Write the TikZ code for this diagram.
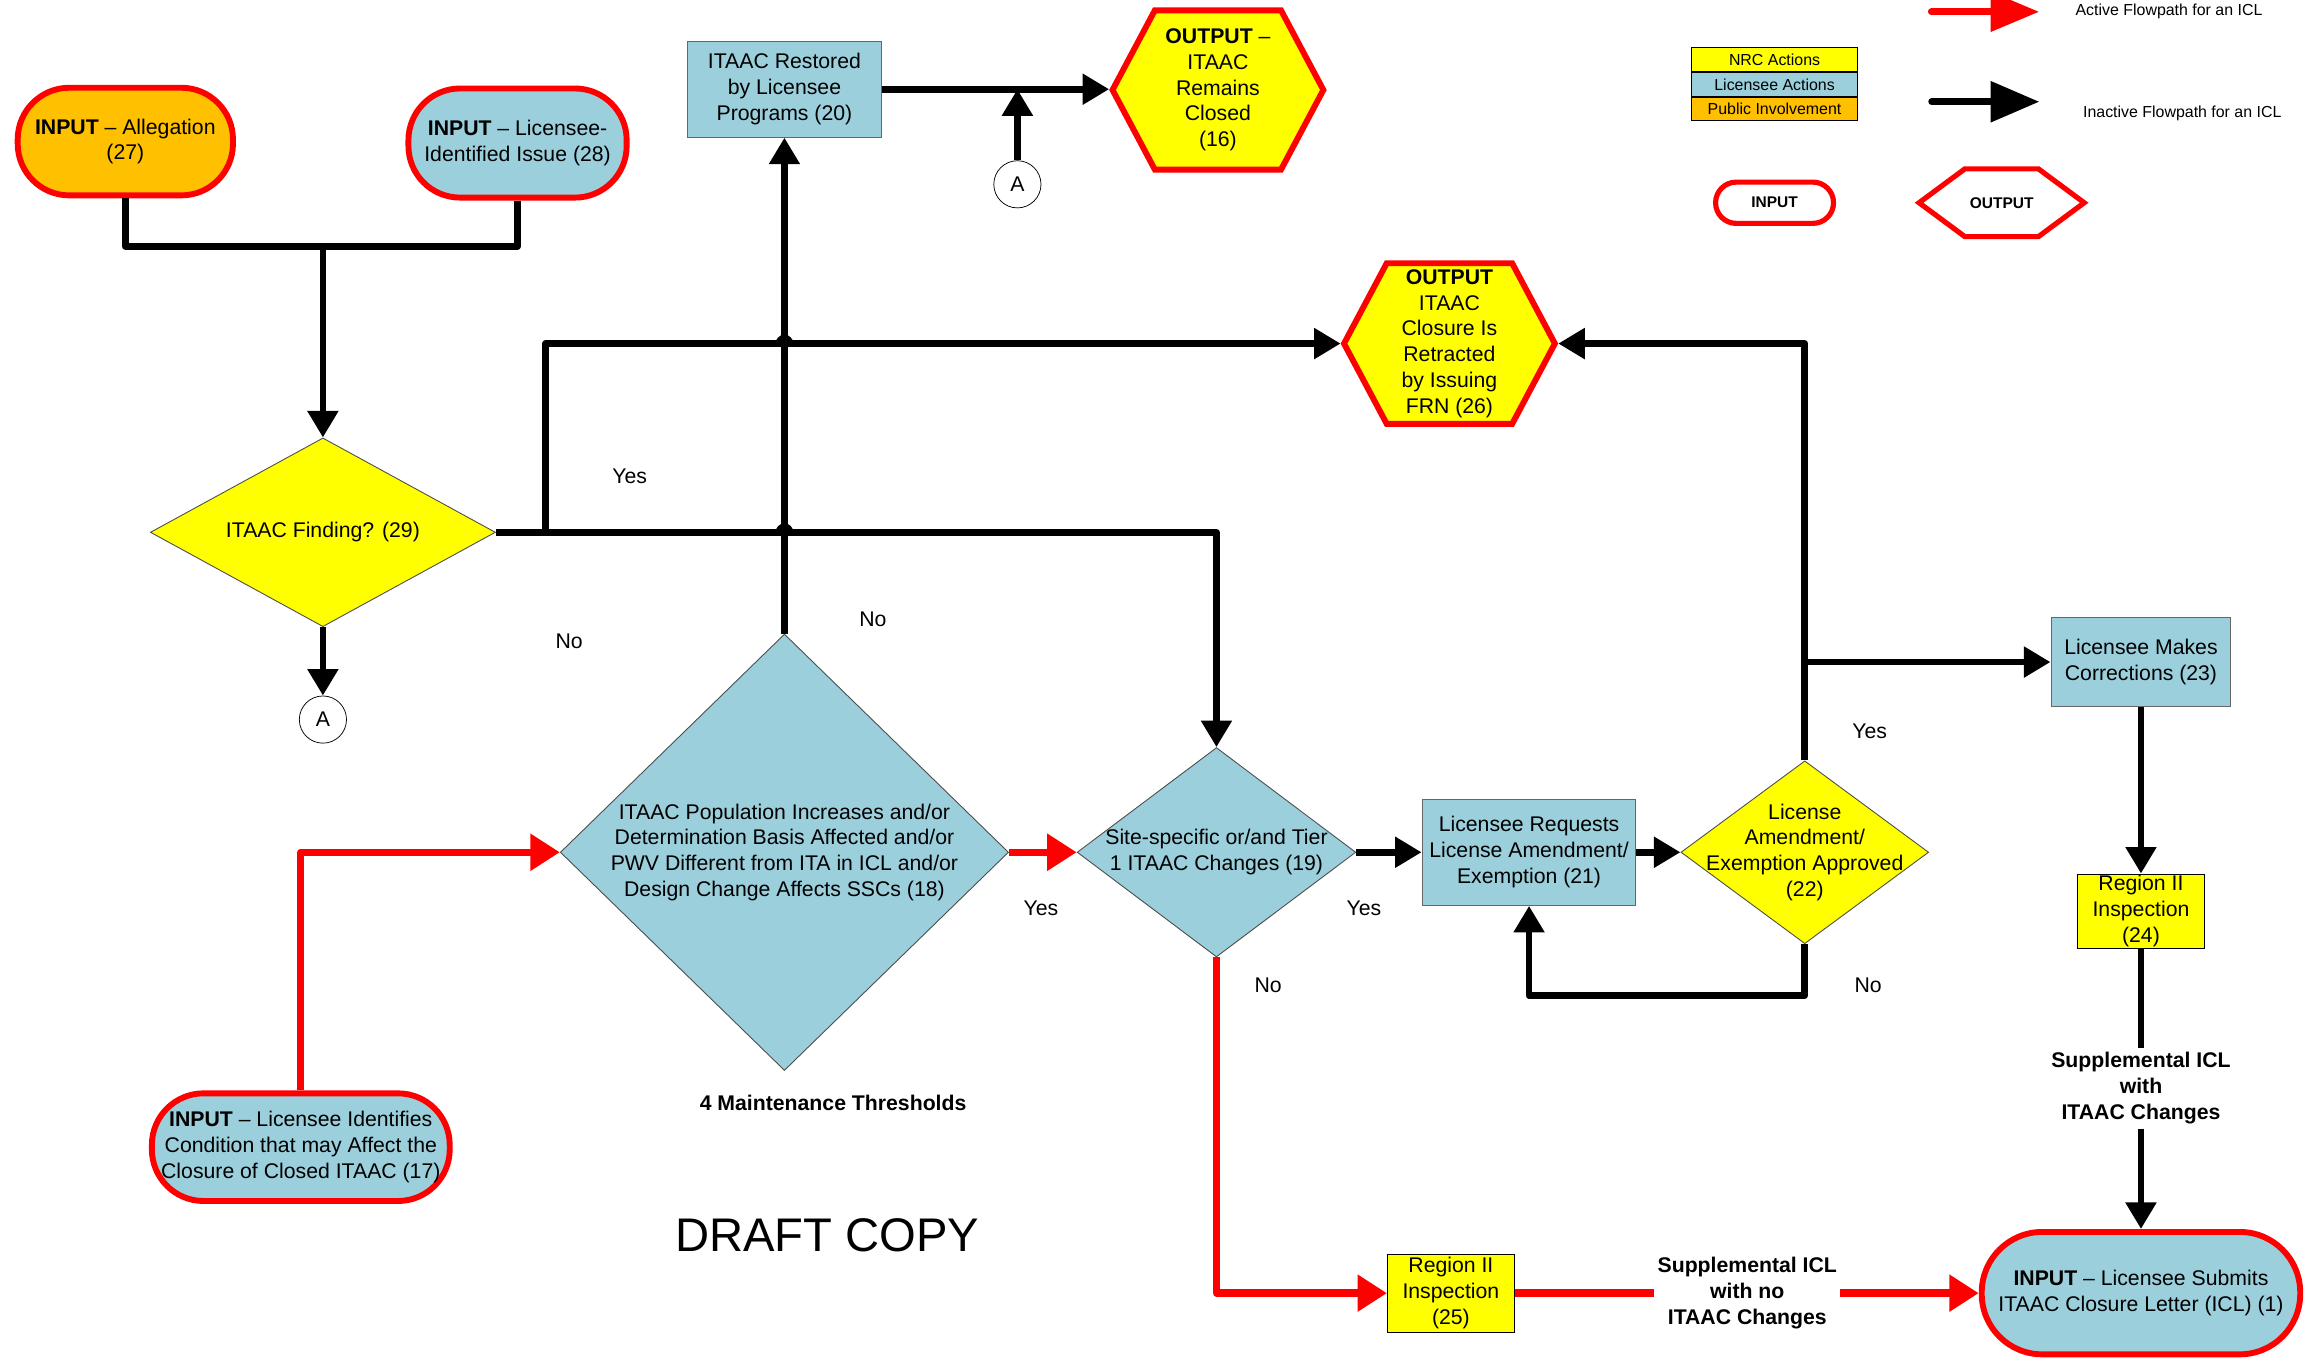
\documentclass[tikz,border=0pt]{standalone}
\usepackage{fontspec}
\setmainfont{Liberation Sans}
\usetikzlibrary{shapes.geometric,shapes.symbols,arrows.meta,positioning}
\definecolor{lic}{RGB}{155,207,220}
\definecolor{pub}{RGB}{255,192,0}
\definecolor{nrcyel}{RGB}{255,255,0}

\begin{document}
\begin{tikzpicture}[
        x=1pt, y=-1pt, % one unit = one pixel of the sketch
        font=\fontsize{14.4}{17.5}\selectfont,
        every node/.style={align=center, inner sep=1pt},
        inbox/.style={rectangle, rounded corners=35pt, draw=red, line width=4pt, fill=lic}, % INPUT
        outhex/.style={signal, signal to=east and west, signal pointer angle=124, draw=red, line width=4pt, fill=nrcyel}, % OUTPUT
        act/.style={rectangle, draw=black!60, line width=0.7pt, fill=lic},
        nrcbox/.style={rectangle, draw=black, line width=0.7pt, fill=nrcyel},
        ask/.style={diamond, draw=black!70, line width=0.6pt}, % decisions
        conn/.style={circle, draw, line width=0.5pt, minimum size=32pt, inner sep=0pt, fill=white},
        flow/.style={draw, line width=4.5pt, line join=round, -{Triangle[length=18pt,width=20pt]}},
        hot/.style={draw=red, line width=5pt, line join=round, -{Triangle[length=20pt,width=24pt]}},
        wire/.style={draw, line width=4.5pt, line join=round},
        hotwire/.style={draw=red, line width=5pt},
        strong/.style={font=\fontsize{14.4}{17.5}\selectfont\bfseries},
        small/.style={font=\fontsize{10.8}{13}\selectfont},
    ]
    \useasboundingbox (0,0) rectangle (1568,924);

    % legend
    \coordinate (ra) at (1310,8);
    \coordinate (rb) at (1383,8);
    \coordinate (ka) at (1310,69);
    \coordinate (kb) at (1383,69);
    \draw[hot, line cap=round, -{Triangle[length=33pt,width=26pt]}] (ra) -- (rb);
    \draw[wire, line cap=round, -{Triangle[length=33pt,width=27pt]}] (ka) -- (kb);
    \node[small] (lact) at (1471,8) {Active Flowpath for an ICL};
    \node[small] (lina) at (1480,77) {Inactive Flowpath for an ICL};
    \node[nrcbox, small, minimum width=113, minimum height=16, inner sep=0pt] (lg1) at (1203.5,40.5) {NRC Actions};
    \node[act, draw=black, small, minimum width=113, minimum height=16, inner sep=0pt, below=0pt of lg1] (lg2) {Licensee Actions};
    \node[act, draw=black, fill=pub, small, minimum width=113, minimum height=16, inner sep=0pt, below=0pt of lg2] (lg3) {Public Involvement};
    \node[inbox, fill=white, line width=3.5pt, rounded corners=14pt, minimum width=80, minimum height=28, font=\fontsize{10.5}{12}\selectfont\bfseries] (lin) at (1203.5,137.5) {INPUT};
    \node[outhex, fill=white, line width=3.5pt, signal pointer angle=73, minimum width=112, minimum height=46, font=\fontsize{10.5}{12}\selectfont\bfseries] (lout) at (1357.5,137.5) {OUTPUT};

    % nodes
    \node[inbox, fill=pub, minimum width=146, minimum height=73] (in27) at (85,96) {\textbf{INPUT} -- Allegation\\(27)};
    \node[inbox, minimum width=148, minimum height=74] (in28) at (351,97) {\textbf{INPUT} -- Licensee-\\Identified Issue (28)};
    \node[act, minimum width=131, minimum height=65] (b20) at (532,60.5) {ITAAC Restored\\by Licensee\\Programs (20)};
    \node[outhex, minimum width=143, minimum height=108] (o16) at (826,61) {\textbf{OUTPUT} --\\ITAAC\\Remains\\Closed\\(16)};
    \node[outhex, minimum width=143, minimum height=109] (o26) at (983,233) {\textbf{OUTPUT}\\ITAAC\\Closure Is\\Retracted\\by Issuing\\FRN (26)};
    \node[ask, fill=nrcyel, minimum width=234, minimum height=128, label=center:{ITAAC Finding? (29)}] (d29) at (219,361) {};
    \node[conn] (cA1) at (219,488) {A};
    \node[conn] (cA2) at (690,125) {A};
    \node[ask, fill=lic, minimum width=304, minimum height=296,
        label=center:{ITAAC Population Increases and/or\\Determination Basis Affected and/or\\PWV Different from ITA in ICL and/or\\Design Change Affects SSCs (18)}] (d18) at (532,578) {};
    \node[inbox, minimum width=202, minimum height=73] (in17) at (204,778) {\textbf{INPUT} -- Licensee Identifies\\Condition that may Affect the\\Closure of Closed ITAAC (17)};
    \node[ask, fill=lic, minimum width=189, minimum height=142, label=center:{Site-specific or/and Tier\\1 ITAAC Changes (19)}] (d19) at (825,578) {};
    \node[act, minimum width=145, minimum height=72] (b21) at (1037,578) {Licensee Requests\\License Amendment/\\Exemption (21)};
    \node[ask, fill=nrcyel, minimum width=168, minimum height=124, label=center:{License\\Amendment/\\Exemption Approved\\(22)}] (d22) at (1224,578) {};
    \node[act, minimum width=122, minimum height=60] (b23) at (1452,449) {Licensee Makes\\Corrections (23)};
    \node[nrcbox, minimum width=86, minimum height=50] (b24) at (1452,618) {Region II\\Inspection\\(24)};
    \node[nrcbox, minimum width=86, minimum height=53] (b25) at (984,877) {Region II\\Inspection\\(25)};
    \node[inbox, rounded corners=41pt, minimum width=216, minimum height=83] (in1) at (1452,877) {\textbf{INPUT} -- Licensee Submits\\ITAAC Closure Letter (ICL) (1)};
    \node[strong, inner sep=3pt] (supA) at (1452,738) {Supplemental ICL\\with\\ITAAC Changes};
    \node[strong, inner sep=2pt] (supB) at (1185,877) {Supplemental ICL\\with no\\ITAAC Changes};
    \node[strong] (mt) at (565,748) {4 Maintenance Thresholds};
    \node[font=\fontsize{32}{36}\selectfont] (draft) at (561,838) {DRAFT COPY};

    % answers
    \node (y29) at (427,323) {Yes};
    \node (n29) at (386,435) {No};
    \node (n18) at (592,420) {No};
    \node (y18) at (706,616) {Yes};
    \node (y19) at (925,616) {Yes};
    \node (n19) at (860,668) {No};
    \node (y22) at (1268,496) {Yes};
    \node (n22) at (1267,668) {No};

    % connectors
    \coordinate (jn) at (219,167);
    \coordinate (yb) at (370,361);
    \draw[wire] (in27.south) |- (jn);
    \draw[wire] (in28.south) |- (jn);
    \draw[flow] (jn) -- (d29.north);
    \draw[flow] (d29.south) -- (cA1);
    \draw[flow] (d29.east) -| (d19.north);
    \draw[flow] (yb) |- (o26.west);
    \draw[flow] (d18.north) -- (b20.south);
    \fill (d18.north |- o26.west) ++(-6pt,0pt) arc[start angle=180, end angle=0, radius=6pt];
    \fill (d18.north |- d29.east) ++(-6pt,0pt) arc[start angle=180, end angle=0, radius=6pt];
    \draw[flow] (b20.east) -- (b20.east -| o16.west);
    \draw[flow] (cA2) -- (cA2 |- b20.east);
    \draw[hot] (in17.north) |- (d18.west);
    \draw[hot] (d18.east) -- (d19.west);
    \draw[flow] (d19.east) -- (b21.west);
    \draw[flow] (b21.east) -- (d22.west);
    \draw[flow] (d22.north) |- (o26.east);
    \draw[flow] (d22.north |- b23.west) -- (b23.west);
    \draw[flow] (d22.south) -- ++(0,35) -| (b21.south);
    \draw[flow] (b23.south) -- (b24.north);
    \draw[wire] (b24.south) -- (supA.north);
    \draw[flow] (supA.south) -- (in1.north);
    \draw[hot] (d19.south) |- (b25.west);
    \draw[hotwire] (b25.east) -- (supB.west);
    \draw[hot] (supB.east) -- (in1.west);
\end{tikzpicture}
\end{document}
